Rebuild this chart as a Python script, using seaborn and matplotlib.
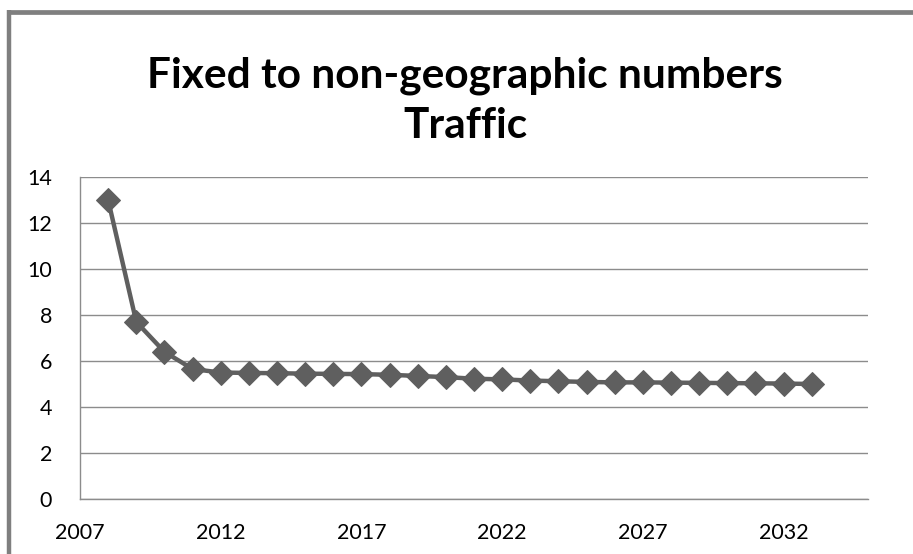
import numpy as np
import pandas as pd
import matplotlib
matplotlib.use("Agg")
import matplotlib.pyplot as plt
import seaborn as sns
from matplotlib.lines import Line2D
from matplotlib.ticker import MultipleLocator

years = list(range(2008, 2034))
traffic = [13.0, 7.7, 6.4, 5.65, 5.5, 5.48, 5.47, 5.45, 5.44, 5.43, 5.4, 5.35, 5.3,
           5.23, 5.2, 5.15, 5.12, 5.09, 5.07, 5.07, 5.06, 5.05, 5.04, 5.03, 5.02, 5.0]
y_ticks = [0, 2, 4, 6, 8, 10, 12, 14]
x_ticks = [2007, 2012, 2017, 2022, 2027, 2032]

df = pd.DataFrame({"year": years, "traffic": traffic})

sns.set_style("white")
plt.rcParams['font.family'] = ['Lato', 'DejaVu Sans']

fig = plt.figure(figsize=(9.13, 5.54), dpi=100)
ax = fig.add_axes([80/913, 1 - 499/554, (868 - 80)/913, (499 - 177)/554])

sns.lineplot(data=df, x="year", y="traffic", ax=ax, color="#5f5f5f", linewidth=3.2,
             marker="D", markersize=12.5, markeredgecolor="#5f5f5f", zorder=3)

ax.set_xlim(2007, 2035)
ax.set_ylim(0, 14)
ax.set_yticks(y_ticks)
ax.set_xticks(x_ticks)
ax.xaxis.set_minor_locator(MultipleLocator(1))
ax.yaxis.grid(True, color="#8c8c8c", linewidth=1)
ax.set_axisbelow(True)
ax.set_xlabel("")
ax.set_ylabel("")

for s in ["top", "right"]:
    ax.spines[s].set_visible(False)
for s in ["left", "bottom"]:
    ax.spines[s].set_color("#8c8c8c")
    ax.spines[s].set_linewidth(1)

ax.tick_params(axis="y", length=0, pad=20, labelsize=15.5, labelcolor="black")
ax.tick_params(axis="x", which="major", direction="in", length=6, color="#8c8c8c",
               pad=17, labelsize=15.5, labelcolor="black")
ax.tick_params(axis="x", which="minor", direction="in", length=4, color="#8c8c8c")

fig.text(465/913, 1 - 101/554, "Fixed to non-geographic numbers\nTraffic",
         ha="center", va="center", fontsize=30.5, fontweight="bold",
         linespacing=1.38, color="black")

# gray frame on top and left edges
fig.add_artist(Line2D([9/913, 9/913], [0, 1 - 10/554], transform=fig.transFigure,
                      color="#7f7f7f", linewidth=3.2, solid_capstyle="butt"))
fig.add_artist(Line2D([7/913, 1], [1 - 12/554, 1 - 12/554], transform=fig.transFigure,
                      color="#7f7f7f", linewidth=3.4, solid_capstyle="butt"))

fig.savefig("out.png", dpi=100)
